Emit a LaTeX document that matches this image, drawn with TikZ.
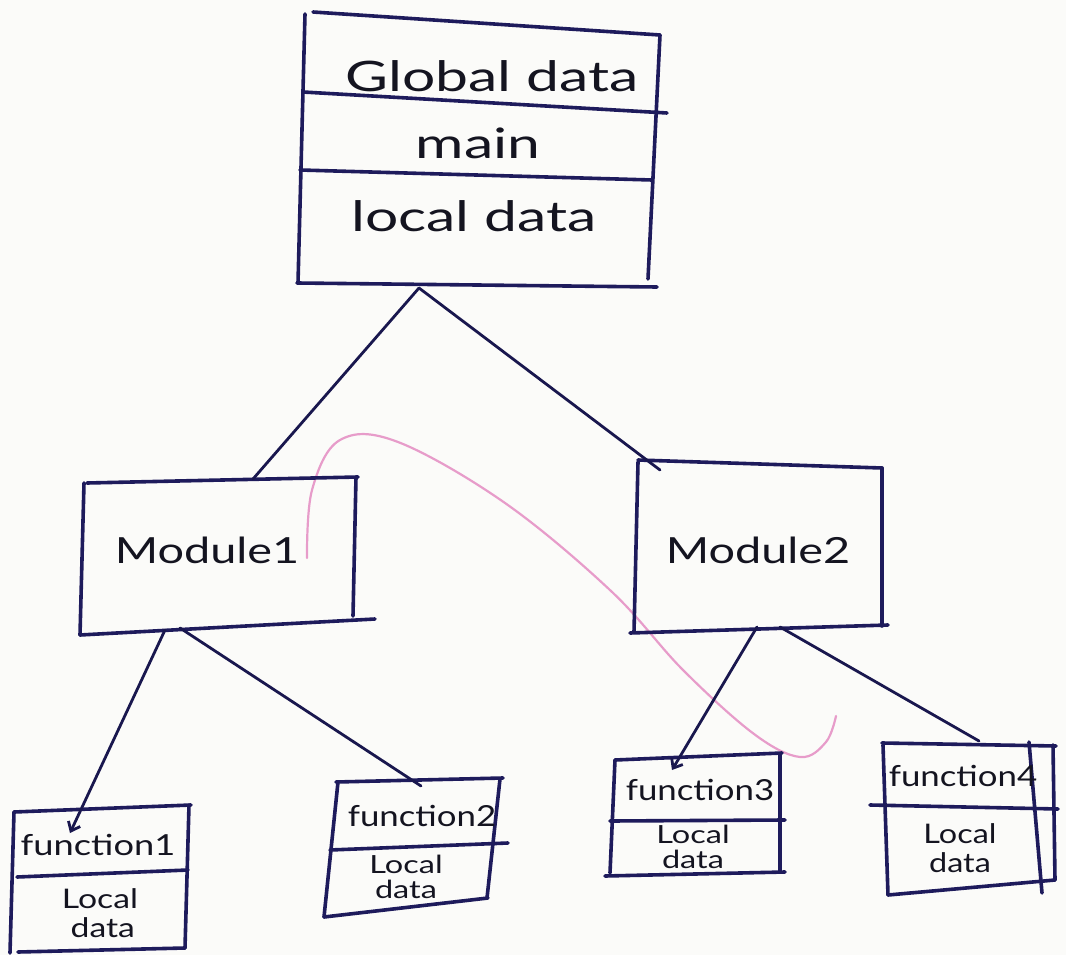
\documentclass[tikz,border=0pt]{standalone}
\usepackage{fontspec}
\usepackage{graphicx}
\setmainfont{Lato}
\usetikzlibrary{arrows.meta}

\definecolor{inkblue}{HTML}{1E1B5C}
\definecolor{inktext}{HTML}{141420}
\definecolor{paper}{HTML}{FBFBF9}
\definecolor{marker}{HTML}{E48CC2}

\newcommand{\widetext}[2]{\scalebox{#1}[1]{#2}}

\tikzset{
  ink/.style={draw=inkblue, line width=3.6pt, line cap=round, line join=round},
  link/.style={draw=inkblue!85!black, line width=2.8pt, line cap=round},
  barb/.style={-{Straight Barb[length=8pt,width=13pt]}},
  bigtxt/.style={text=inktext, font=\fontsize{42}{46}\selectfont, inner sep=0pt},
  modtxt/.style={text=inktext, font=\fontsize{36}{40}\selectfont, inner sep=0pt},
  fntxt/.style={text=inktext, font=\fontsize{29}{34}\selectfont, inner sep=0pt, align=center},
  datatxt/.style={text=inktext, font=\fontsize{27}{29}\selectfont, inner sep=0pt, align=center},
  smalldatatxt/.style={text=inktext, font=\fontsize{25}{25}\selectfont, inner sep=0pt, align=center},
}

\begin{document}
\begin{tikzpicture}[x=1pt,y=-1pt]
  \fill[paper] (0,0) rectangle (1066,955);
  \useasboundingbox (0,0) rectangle (1066,955);

  % stray highlighter stroke across the sheet
  \draw[marker, line width=2.2pt, opacity=0.85, line cap=round]
    plot[smooth, tension=0.6] coordinates {(307,558) (312,490) (340,440) (398,442)
      (505,503) (611,591) (683,670) (754,734) (800,757) (826,742) (836,716)};

  % ---- main program block ----
  \draw[ink] (313,12) -- (660,35);
  \draw[ink] (305,14) -- (298,283);
  \draw[ink] (660,35) -- (648,279);
  \draw[ink] (303,92) -- (667,113);
  \draw[ink] (300,170) -- (652,180);
  \draw[ink] (297,283) -- (657,287);
  \node[bigtxt] (glob) at (492,76) {\widetext{1.4}{Global data}};
  \node[bigtxt] (mainpart) at (478,143) {\widetext{1.4}{main}};
  \node[bigtxt] (loc) at (474,216) {\widetext{1.4}{local data}};
  \coordinate (top-s) at (419,288);

  % ---- Module1 ----
  \draw[ink] (87,483) -- (358,477);
  \draw[ink] (84,483) -- (80,635);
  \draw[ink] (356,477) -- (353,616);
  \draw[ink] (80,635) -- (375,619);
  \node[modtxt] (m1) at (207,550) {\widetext{1.3}{Module1}};
  \coordinate (m1-n) at (253,479);
  \coordinate (m1-sw) at (165,630);
  \coordinate (m1-se) at (180,628);

  % ---- Module2 ----
  \draw[ink] (638,460) -- (882,468);
  \draw[ink] (638,462) -- (634,632);
  \draw[ink] (882,468) -- (882,626);
  \draw[ink] (630,633) -- (888,625);
  \node[modtxt] (m2) at (758,550) {\widetext{1.3}{Module2}};
  \coordinate (m2-nw) at (660,470);
  \coordinate (m2-sw) at (757,627);
  \coordinate (m2-se) at (780,627);

  % ---- function1 ----
  \draw[ink] (14,812) -- (191,805);
  \draw[ink] (14,812) -- (10,953);
  \draw[ink] (189,805) -- (185,948);
  \draw[ink] (17,877) -- (188,870);
  \draw[ink] (18,952) -- (185,948);
  \node[fntxt] (f1) at (98,845) {\widetext{1.25}{function1}};
  \node[datatxt] (l1) at (100,913) {\widetext{1.25}{Local}\\\widetext{1.25}{\,data}};
  \coordinate (f1-in) at (70,833);

  % ---- function2 ----
  \draw[ink] (336,782) -- (503,778);
  \draw[ink] (338,782) -- (324,917);
  \draw[ink] (500,779) -- (487,898);
  \draw[ink] (330,850) -- (508,843);
  \draw[ink] (324,917) -- (488,898);
  \node[fntxt] (f2) at (422,816) {\widetext{1.2}{function2}};
  \node[smalldatatxt] (l2) at (406,877) {\widetext{1.3}{Local}\\\widetext{1.3}{data}};
  \coordinate (f2-in) at (421,786);

  % ---- function3 ----
  \draw[ink] (615,760) -- (782,753);
  \draw[ink] (615,760) -- (610,873);
  \draw[ink] (780,755) -- (780,872);
  \draw[ink] (610,821) -- (785,820);
  \draw[ink] (605,876) -- (785,872);
  \node[fntxt] (f3) at (700,790) {\widetext{1.2}{function3}};
  \node[smalldatatxt] (l3) at (693,847) {\widetext{1.3}{Local}\\\widetext{1.3}{data}};
  \coordinate (f3-in) at (672,770);

  % ---- function4 (right edge drawn twice) ----
  \draw[ink] (882,743) -- (1056,746);
  \draw[ink] (883,745) -- (888,895);
  \draw[ink] (1029,742) -- (1042,893);
  \draw[ink] (1053,745) -- (1055,880);
  \draw[ink] (870,805) -- (1058,809);
  \draw[ink] (888,895) -- (1055,880);
  \node[fntxt] (f4) at (963,776) {\widetext{1.2}{function4}};
  \node[datatxt] (l4) at (960,848) {\widetext{1.2}{Local}\\\widetext{1.2}{data}};
  \coordinate (f4-in) at (979,741);

  % ---- connectors ----
  \draw[link] (top-s) -- (m1-n);
  \draw[link] (top-s) -- (m2-nw);
  \draw[link, barb] (m1-sw) -- (f1-in);
  \draw[link] (m1-se) -- (f2-in);
  \draw[link, barb] (m2-sw) -- (f3-in);
  \draw[link] (m2-se) -- (f4-in);
\end{tikzpicture}
\end{document}
